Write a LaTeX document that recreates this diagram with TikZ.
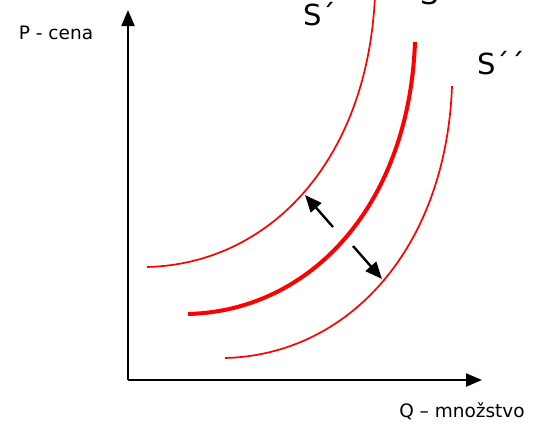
\documentclass[tikz,border=0pt]{standalone}
\usepackage{fontspec}
\setmainfont{DejaVu Sans}
\usetikzlibrary{arrows.meta}

\begin{document}
\begin{tikzpicture}[x=1pt, y=-1pt,
                    axis/.style={line width=2pt, -{Triangle[length=16pt, width=13pt]}},
                    curve/.style={red, line width=1.7pt},
                    move/.style={line width=2.4pt, -{Triangle[length=17pt, width=14pt]}},
                    every node/.style={inner sep=0pt}
                    ]
                    \useasboundingbox (0,0) rectangle (538,424);
                    \clip (0,0) rectangle (538,424);

                    % axes
                    \coordinate (O) at (128,380);
                    \coordinate (Ptop) at (128,10);
                    \coordinate (Qend) at (482,380);
                    \draw[axis] (O) -- (Ptop);
                    \draw[axis] (O) -- (Qend);
                    \node (P) at (56,33) {\fontsize{18.5}{20}\selectfont P - cena};
                    \node (Q) at (462,411) {\fontsize{18.5}{20}\selectfont Q – množstvo};

                    % supply curves
                    \draw[curve] (147,267) .. controls (270,264) and (368,160) .. (375,-5);
                    \draw[curve, line width=4pt] (188,314) .. controls (311,311) and (409,205) .. (415,42);
                    \draw[curve] (225,358) .. controls (348,355) and (446,249) .. (452,86);

                    \node (S1) at (320,14) {\fontsize{29}{30}\selectfont S´};
                    \node (S) at (430,-6) {\fontsize{29}{30}\selectfont S};
                    \node (S2) at (501,63) {\fontsize{29}{30}\selectfont S´´};

                    % shifts
                    \coordinate (a1) at (333,227);
                    \coordinate (a2) at (305,195);
                    \coordinate (b1) at (353,246);
                    \coordinate (b2) at (382,279);
                    \draw[move] (a1) -- (a2);
                    \draw[move] (b1) -- (b2);
                \end{tikzpicture}
\end{document}
